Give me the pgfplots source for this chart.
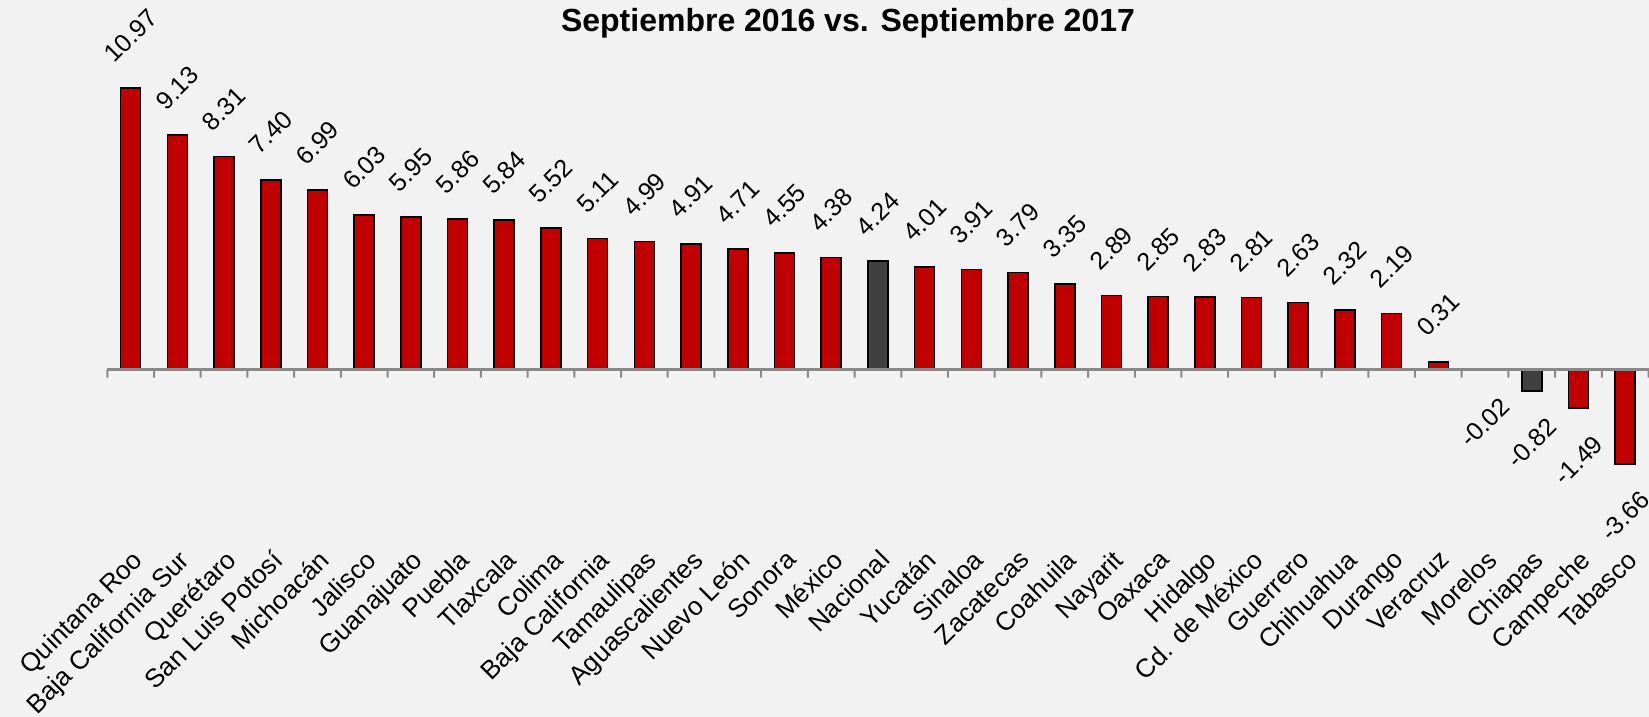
\documentclass[border=0pt]{standalone}
\usepackage{pgfplots}
\usepackage{pgfplotstable}
\usepackage{graphicx}
\usepackage{fontspec}
\setmainfont{Liberation Sans}
\pgfplotsset{compat=1.18}
\definecolor{bg}{HTML}{F2F2F2}
\definecolor{barred}{HTML}{C00000}
\definecolor{bargray}{HTML}{404040}
\definecolor{axgray}{HTML}{898989}

\pgfplotstableread{
x y
0 10.97
1 9.13
2 8.31
3 7.40
4 6.99
5 6.03
6 5.95
7 5.86
8 5.84
9 5.52
10 5.11
11 4.99
12 4.91
13 4.71
14 4.55
15 4.38
17 4.01
18 3.91
19 3.79
20 3.35
21 2.89
22 2.85
23 2.83
24 2.81
25 2.63
26 2.32
27 2.19
28 0.31
}\redpos
\pgfplotstableread{
x y
29 -0.02
31 -1.49
32 -3.66
}\redneg
\pgfplotstableread{
x y
16 4.24
}\graypos
\pgfplotstableread{
x y
30 -0.82
}\grayneg
\pgfplotstableread{
x y
-0.5 -0.3
0.5 -0.3
1.5 -0.3
2.5 -0.3
3.5 -0.3
4.5 -0.3
5.5 -0.3
6.5 -0.3
7.5 -0.3
8.5 -0.3
9.5 -0.3
10.5 -0.3
11.5 -0.3
12.5 -0.3
13.5 -0.3
14.5 -0.3
15.5 -0.3
16.5 -0.3
17.5 -0.3
18.5 -0.3
19.5 -0.3
20.5 -0.3
21.5 -0.3
22.5 -0.3
23.5 -0.3
24.5 -0.3
25.5 -0.3
26.5 -0.3
27.5 -0.3
28.5 -0.3
29.5 -0.3
30.5 -0.3
31.5 -0.3
32.5 -0.3
}\tickmarks

\begin{document}
\begin{tikzpicture}
\fill[bg] (0,0) rectangle (824.5pt,358.5pt);
\useasboundingbox (0,0) rectangle (824.5pt,358.5pt);
\node[anchor=base, font=\bfseries\fontsize{16}{19}\selectfont] at (424pt,342.75pt) {Septiembre 2016 vs. Septiembre 2017};
\begin{axis}[
  at={(53.65pt,84.5pt)}, anchor=south west,
  scale only axis,
  width=770.6pt, height=243.25pt,
  xmin=-0.5, xmax=32.5,
  ymin=-6.93, ymax=12,
  axis x line=bottom, axis y line=none,
  axis line style={draw=none},
  clip=false,
  xtick={0,...,32},
  xticklabels={Quintana Roo,Baja California Sur,Querétaro,San Luis Potosí,Michoacán,Jalisco,Guanajuato,Puebla,Tlaxcala,Colima,Baja California,Tamaulipas,Aguascalientes,Nuevo León,Sonora,México,Nacional,Yucatán,Sinaloa,Zacatecas,Coahuila,Nayarit,Oaxaca,Hidalgo,Cd. de México,Guerrero,Chihuahua,Durango,Veracruz,Morelos,Chiapas,Campeche,Tabasco},
  major tick length=0pt,
  tick style={draw=none},
  xticklabel style={rotate=45, anchor=north east, inner sep=0pt, font=\fontsize{13}{15}\selectfont},
  /pgf/number format/.cd, fixed, fixed zerofill, precision=2, assume math mode=true,
]
\addplot[ybar, bar width=10pt, bar shift=0pt, fill=barred, draw=black, line width=0.8pt,
  nodes near coords={\rotatebox{45}{\pgfmathprintnumber{\pgfplotspointmeta}}},
  every node near coord/.append style={anchor=south, yshift=11.5pt, inner sep=0pt, text=black, font=\fontsize{12.5}{14}\selectfont}]
  table[x=x,y=y] {\redpos};
\addplot[ybar, bar width=10pt, bar shift=0pt, fill=bargray, draw=black, line width=0.8pt,
  nodes near coords={\rotatebox{45}{\pgfmathprintnumber{\pgfplotspointmeta}}},
  every node near coord/.append style={anchor=south, yshift=11.5pt, inner sep=0pt, text=black, font=\fontsize{12.5}{14}\selectfont}]
  table[x=x,y=y] {\graypos};
\addplot[ybar, bar width=10pt, bar shift=0pt, fill=barred, draw=black, line width=0.8pt,
  nodes near coords={\rotatebox{45}{\pgfmathprintnumber{\pgfplotspointmeta}}},
  every node near coord/.append style={anchor=north, yshift=-12.5pt, inner sep=0pt, text=black, font=\fontsize{12.5}{14}\selectfont}]
  table[x=x,y=y] {\redneg};
\addplot[ybar, bar width=10pt, bar shift=0pt, fill=bargray, draw=black, line width=0.8pt,
  nodes near coords={\rotatebox{45}{\pgfmathprintnumber{\pgfplotspointmeta}}},
  every node near coord/.append style={anchor=north, yshift=-12.5pt, inner sep=0pt, text=black, font=\fontsize{12.5}{14}\selectfont}]
  table[x=x,y=y] {\grayneg};
\addplot[ybar, bar width=1pt, bar shift=0pt, fill=axgray, draw=none] table[x=x,y=y] {\tickmarks};
\addplot[axgray, line width=1.4pt, no marks] coordinates {(-0.5,0) (32.5,0)};
\end{axis}
\end{tikzpicture}
\end{document}
